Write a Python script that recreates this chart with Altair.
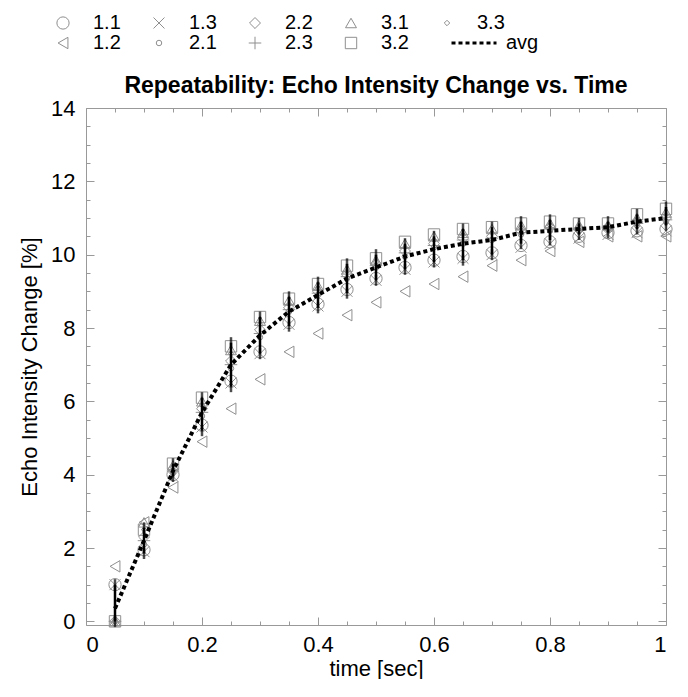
import altair as alt
import pandas as pd

time_s = [0.05, 0.10, 0.15, 0.20, 0.25, 0.30, 0.35, 0.40, 0.45, 0.50,
          0.55, 0.60, 0.65, 0.70, 0.75, 0.80, 0.85, 0.90, 0.95, 1.00]

s_1_1 = [1.0, 1.95, 4.0, 5.35, 6.55, 7.35, 8.15, 8.65, 9.05, 9.35, 9.65, 9.85, 9.95, 10.05, 10.25, 10.35, 10.5, 10.6, 10.65, 10.7]
s_1_2 = [1.5, 2.7, 3.65, 4.9, 5.8, 6.6, 7.35, 7.85, 8.35, 8.7, 9.0, 9.2, 9.4, 9.7, 9.85, 10.1, 10.35, 10.5, 10.5, 10.5]
s_1_3 = [1.0, 1.9, 3.95, 5.3, 6.5, 7.3, 8.1, 8.6, 9.0, 9.3, 9.6, 9.8, 9.9, 10.0, 10.2, 10.3, 10.45, 10.55, 10.6, 10.65]
s_2_1 = [0.0, 2.1, 4.05, 5.6, 6.9, 7.75, 8.45, 8.9, 9.35, 9.65, 9.95, 10.2, 10.3, 10.4, 10.55, 10.65, 10.65, 10.7, 10.8, 10.9]
s_2_2 = [0.0, 2.3, 4.15, 5.8, 7.1, 7.95, 8.55, 9.0, 9.45, 9.75, 10.1, 10.3, 10.45, 10.5, 10.65, 10.75, 10.7, 10.75, 10.9, 11.0]
s_2_3 = [0.0, 2.2, 4.1, 5.7, 7.0, 7.85, 8.5, 8.95, 9.4, 9.7, 10.05, 10.25, 10.4, 10.45, 10.6, 10.7, 10.7, 10.75, 10.85, 10.95]
s_3_1 = [0.0, 2.7, 4.25, 6.0, 7.4, 8.2, 8.75, 9.15, 9.6, 9.85, 10.3, 10.5, 10.6, 10.7, 10.8, 10.85, 10.8, 10.8, 11.0, 11.15]
s_3_2 = [0.0, 2.5, 4.3, 6.1, 7.5, 8.3, 8.8, 9.2, 9.7, 9.9, 10.35, 10.55, 10.7, 10.75, 10.85, 10.9, 10.85, 10.85, 11.1, 11.25]
s_3_3 = [0.0, 2.5, 4.2, 5.9, 7.3, 8.1, 8.65, 9.1, 9.55, 9.8, 10.2, 10.4, 10.55, 10.6, 10.75, 10.8, 10.75, 10.8, 10.95, 11.1]

avg = [0.35, 2.2, 4.1, 5.7, 7.0, 7.8, 8.45, 8.9, 9.35, 9.65, 9.95, 10.15, 10.3, 10.4, 10.6, 10.65, 10.7, 10.75, 10.9, 11.0]
err_lo = [0.0, 1.85, 3.95, 5.2, 6.4, 7.3, 8.05, 8.55, 8.95, 9.3, 9.6, 9.8, 9.85, 10.0, 10.3, 10.4, 10.55, 10.6, 10.7, 10.8]
err_hi = [1.0, 2.55, 4.3, 6.1, 7.6, 8.3, 8.85, 9.25, 9.75, 10.0, 10.3, 10.5, 10.7, 10.75, 10.9, 10.95, 10.85, 10.9, 11.1, 11.3]

series_names = ["1.1", "1.2", "1.3", "2.1", "2.2", "2.3", "3.1", "3.2", "3.3"]
series_vals = [s_1_1, s_1_2, s_1_3, s_2_1, s_2_2, s_2_3, s_3_1, s_3_2, s_3_3]
avg_name = ["avg"]

x_major = [0, 0.2, 0.4, 0.6, 0.8, 1.0]
x_minor = [0.05, 0.1, 0.15, 0.25, 0.3, 0.35, 0.45, 0.5, 0.55, 0.65, 0.7, 0.75, 0.85, 0.9, 0.95]
y_major = [0, 2, 4, 6, 8, 10, 12, 14]
y_minor = [0.5, 1, 1.5, 2.5, 3, 3.5, 4.5, 5, 5.5, 6.5, 7, 7.5, 8.5, 9, 9.5,
           10.5, 11, 11.5, 12.5, 13, 13.5]

GRAY = "#8f8f8f"
shape_map = {
    "1.1": "circle",
    "1.2": "triangle-left",
    "1.3": "M-1,-1L1,1M-1,1L1,-1",
    "2.1": "circle",
    "2.2": "diamond",
    "2.3": "M-1.1,0L1.1,0M0,-1.1L0,1.1",
    "3.1": "triangle-up",
    "3.2": "square",
    "3.3": "diamond",
}
size_map = {"1.1": 150, "1.2": 130, "1.3": 120, "2.1": 30, "2.2": 120,
            "2.3": 130, "3.1": 120, "3.2": 130, "3.3": 30}

rows = []
for name, vals in zip(series_names, series_vals):
    for t, v in zip(time_s, vals):
        rows.append({"t": t, "v": v, "series": name})
df_pts = pd.DataFrame(rows)
df_avg = pd.DataFrame({"t": time_s, "avg": avg, "lo": err_lo, "hi": err_hi,
                       "name": avg_name * len(time_s)})

FONT = "Liberation Sans"
legend = alt.Legend(
    orient="none", legendX=-33, legendY=-95, columns=5, title=None,
    labelFontSize=20, labelFont=FONT, labelColor="black", labelOffset=20,
    columnPadding=28, rowPadding=0, symbolStrokeWidth=1, gridAlign="all",
)
avg_legend = alt.Legend(
    orient="none", legendX=364, legendY=-89, title=None,
    labelFontSize=20, labelFont=FONT, labelColor="black", labelOffset=8,
    symbolType="stroke", symbolSize=2025, symbolStrokeWidth=3,
    symbolStrokeColor="black", symbolDash=[3.5, 2],
)

xs = alt.Scale(domain=[0, 1], nice=False, zero=False)
ys = alt.Scale(domain=[-0.1, 14], nice=False, zero=False)


def tick_axis(orient, values, size):
    return alt.Axis(orient=orient, values=values, tickSize=size, offset=-size,
                    labels=False, domain=False, title=None, grid=False,
                    ticks=True, tickColor="#999999", tickWidth=1)


points = alt.Chart(df_pts).mark_point(filled=False, opacity=1, strokeWidth=1).encode(
    x=alt.X("t:Q", scale=xs, axis=alt.Axis(
        values=x_major, title="time [sec]", ticks=False, domain=False, grid=False,
        labelPadding=9, titlePadding=3, labelFontSize=22, titleFontSize=22,
        labelFont=FONT, titleFont=FONT, titleFontWeight="normal",
        labelColor="black", titleColor="black",
        labelExpr="datum.value == 0 ? '0' : datum.value == 1 ? '1' : format(datum.value, '.1f')")),
    y=alt.Y("v:Q", scale=ys, axis=alt.Axis(
        values=y_major, title="Echo Intensity Change [%]", ticks=False, domain=False,
        grid=False, labelPadding=11, titlePadding=9, labelFontSize=22,
        titleFontSize=22, labelFont=FONT, titleFont=FONT, titleFontWeight="normal",
        labelColor="black", titleColor="black")),
    color=alt.Color("series:N", scale=alt.Scale(domain=series_names,
                    range=[GRAY] * len(series_names)), legend=legend),
    shape=alt.Shape("series:N", scale=alt.Scale(domain=series_names,
                    range=[shape_map[k] for k in series_names]), legend=legend),
    size=alt.Size("series:N", scale=alt.Scale(type="ordinal", domain=series_names,
                  range=[size_map[k] for k in series_names]), legend=legend),
)

rules = alt.Chart(df_avg).mark_rule(color="black", strokeWidth=2.5).encode(
    x=alt.X("t:Q", scale=xs, axis=tick_axis("bottom", x_major, 8)),
    y=alt.Y("lo:Q", scale=ys, axis=tick_axis("left", y_major, 8)),
    y2="hi:Q",
)
caps_lo = alt.Chart(df_avg).mark_tick(color="black", thickness=2.5, size=11).encode(
    x=alt.X("t:Q", scale=xs, axis=tick_axis("bottom", x_minor, 4)),
    y=alt.Y("lo:Q", scale=ys, axis=tick_axis("left", y_minor, 4)),
)
caps_hi = alt.Chart(df_avg).mark_tick(color="black", thickness=2.5, size=11).encode(
    x=alt.X("t:Q", scale=xs, axis=tick_axis("top", x_minor, 4)),
    y=alt.Y("hi:Q", scale=ys, axis=tick_axis("right", y_minor, 4)),
)
line = alt.Chart(df_avg).mark_line(color="black", strokeWidth=4).encode(
    x=alt.X("t:Q", scale=xs, axis=tick_axis("top", x_major, 8)),
    y=alt.Y("avg:Q", scale=ys, axis=tick_axis("right", y_major, 8)),
    strokeDash=alt.StrokeDash("name:N", scale=alt.Scale(domain=avg_name, range=[[4, 3]]),
                              legend=avg_legend),
)

chart = alt.layer(points, rules, caps_lo, caps_hi, line).resolve_axis(
    x="independent", y="independent"
).properties(
    width=580, height=517,
    title=alt.TitleParams("Repeatability: Echo Intensity Change vs. Time",
                          fontSize=23, fontWeight="bold", font=FONT, color="black",
                          anchor="middle", frame="group", offset=-85),
    padding={"left": 10, "top": 5, "right": 2, "bottom": 0},
).configure_view(stroke="#999999", strokeWidth=1)

chart.save("out.html", embed_options={"renderer": "svg", "actions": False})
